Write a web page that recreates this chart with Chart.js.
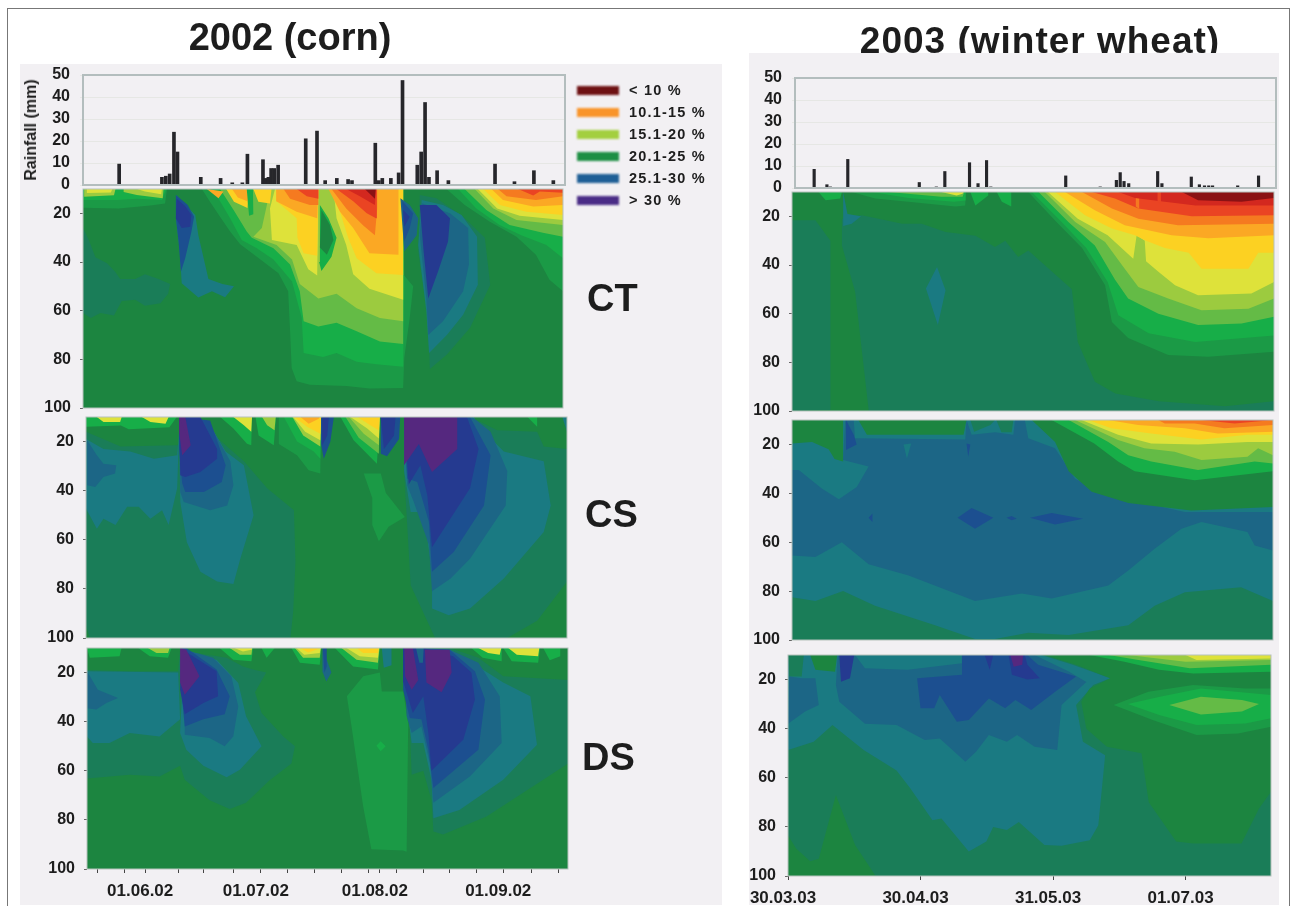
<!DOCTYPE html>
<html>
<head>
<meta charset="utf-8">
<title>Soil moisture 2002 / 2003</title>
<script src="https://cdn.jsdelivr.net/npm/chart.js@4/dist/chart.umd.js"></script>
<style>
  html, body { margin: 0; background: #fff; }
  body { width: 1292px; height: 909px; position: relative; overflow: hidden; font-family: "Liberation Sans", Arial, sans-serif; font-weight: bold; color: #1d1d1d; }
  .frame { position: absolute; left: 7px; top: 8px; width: 1283px; height: 898px; border: 1px solid #777; border-bottom: 0; box-sizing: border-box; }
  .sheet { position: absolute; background: #f2f0f3; }
  .title { position: absolute; font-size: 38px; line-height: 42px; white-space: nowrap; transform: translateX(-50%); filter: blur(0.6px); }
  .side { position: absolute; font-size: 38px; line-height: 42px; filter: blur(0.5px); }
  .swatch { position: absolute; left: 577px; width: 42px; height: 9px; filter: blur(0.8px); }
  .key { position: absolute; left: 629px; font-size: 14.5px; letter-spacing: 1.2px; line-height: 16px; white-space: nowrap; filter: blur(0.5px); }
  .rain-title { position: absolute; left: 31px; top: 130px; font-size: 16px; line-height: 16px; white-space: nowrap; transform: translate(-50%, -50%) rotate(-90deg); filter: blur(0.6px); }
  canvas { position: absolute; filter: blur(0.7px); }
</style>
</head>
<body>
<div class="frame"></div>
<div class="title" style="left:290px;top:16px">2002 (corn)</div>
<div class="title" style="left:1040px;top:20px;font-size:37px;letter-spacing:1px">2003 (winter wheat)</div>
<div class="sheet" style="left:20px;top:64px;width:702px;height:841px"></div>
<div class="sheet" style="left:749px;top:53px;width:530px;height:852px"></div>
<div class="side" style="left:587px;top:277px">CT</div>
<div class="side" style="left:585px;top:493px">CS</div>
<div class="side" style="left:582px;top:736px">DS</div>
<div id="legend"></div>
<script>
// moisture classes, driest first
const moistureColors = [
  "#8a1214", "#d3281f", "#ea4423", "#f57a20", "#fba824", "#fcd122",
  "#dee23a", "#9ccb3f", "#64bb46", "#17ae48", "#1b9a46", "#1c8540",
  "#1a7d58", "#1a7a82", "#1c6686", "#1c4f90", "#253a90", "#55287f",
];
const INDIGO = 16;
const PURPLE = 17;

const legendLabels = ["< 10 %", "10.1-15 %", "15.1-20 %", "20.1-25 %", "25.1-30 %", "> 30 %"];
const legendColors = ["#6e1113", "#f9942a", "#a3cf3f", "#1d8f44", "#1f5f96", "#4a2c86"];

// rainfall: day since start of plot, mm
const rainDays02 = [9.3, 20.3, 21.3, 22.3, 23.4, 24.3, 27.7, 30.3, 35.4, 38.4, 41, 42.3, 46.3, 47, 47.7, 48.4, 49.2, 50.2, 57.3, 60.2, 62.3, 65.3, 68.2, 69.2, 75.2, 76.1, 77, 79.2, 81.2, 82.2, 86, 87, 88, 89, 91.1, 94, 97, 106, 111, 116, 121];
const rainMm02 = [9.5, 3.5, 4, 5, 24, 15, 0.3, 3.5, 3, 1, 1, 14, 11.5, 3, 3.5, 7.5, 7.5, 9, 21, 24.5, 2, 3, 2.5, 2, 19, 2, 3, 3, 5.5, 47.5, 9, 15, 37.5, 3.5, 6.5, 2, 0.3, 9.5, 1.5, 6.5, 2];
const rainDays03 = [4.5, 7.5, 8.3, 12.4, 29.2, 33.2, 35.2, 41, 43, 45, 46, 63.6, 71.7, 75.5, 76.4, 77.3, 78.4, 85.2, 86.2, 93.1, 95, 96.2, 97.2, 98.1, 104, 108.9];
const rainMm03 = [8.5, 1.5, 0.5, 13, 2.5, 0.5, 7.5, 11.5, 2, 12.5, 0.5, 5.5, 0.5, 3.5, 7, 3, 2, 7.5, 2, 5, 1.5, 1, 1, 1, 1, 5.5];

const depthTicks = [20, 40, 60, 80, 100];
const rainTicks = [0, 10, 20, 30, 40, 50];
const dayRange02 = 124;
const dayRange03 = 113;

const tickDays02 = [2.8, 9.7, 15, 23.5, 30, 37.7, 44.8, 51.8, 58.7, 65.6, 72.5, 75.5, 79.8, 86.7, 93.5, 100.4, 107.3, 114.6, 121.5];
const tickNames02 = { 15: "01.06.02", 44.8: "01.07.02", 75.5: "01.08.02", 107.3: "01.09.02" };
const tickDays03 = [0, 31, 62, 93];
const tickNames03 = { 0: "30.03.03", 31: "30.04.03", 62: "31.05.03", 93: "01.07.03" };

// contour layers as [class, [[day, depth], ...]], painted in order
const ct02Layers = [
  [11, [[0,10],[124,10],[124,100],[0,100]]],
  [12, [[0,26],[1.5,31],[3.2,38],[6.2,40.5],[8.3,44],[9.6,47],[13.5,47],[16,45],[19.5,47],[22.5,49],[22,53],[20,57],[16,58],[13.5,55.5],[10,56],[8,62],[4.5,61],[2,63],[0,61]]],
  [13, [[24,12.5],[29,20.7],[29.8,29],[32.4,47],[36,49],[39,50],[36.7,54.5],[33.3,52],[29.8,54.6],[25.5,48.7],[25,35.7],[24,22]]],
  [15, [[24,12.5],[27,16.5],[28.7,21.4],[28,27.6],[26.4,38.5],[25.3,44],[24.7,31.6],[24,22]]],
  [INDIGO, [[24.2,14],[26.4,17],[28,20.7],[27.7,25.5],[25.5,26],[24,22]]],
  // left surface strip
  [10, [[0,10],[21.7,10],[21.2,16],[17.4,16.8],[9.2,18],[0,17.7]]],
  [9, [[0,10],[21.5,10],[20.4,14.5],[13.9,14],[8.8,14.5],[0,14.5]]],
  [7, [[0.3,10],[8.4,10],[8,12.6],[0.3,13.2]]],
  [6, [[1,10],[7.6,10],[7.2,11.4],[1,11.6]]],
  [7, [[10.5,10],[20.8,10],[20.6,13.8],[13.9,12.5],[10.5,11.2]]],
  [6, [[14,10],[20.4,10],[20.2,12.2],[16,11]]],
  // middle dry period
  [10, [[30.7,10],[32.8,15.2],[35.4,21.4],[38,27.5],[40.6,32.7],[44.9,37.8],[50.5,44.6],[53,52],[53.5,68.5],[53.9,83.6],[55.2,89],[58.6,90.4],[68,91],[74,92],[82.7,91.8],[83,79.5],[84.4,63],[85.3,50],[82.7,45],[82,10]]],
  [9, [[33.3,10],[35.4,15],[38,22],[41,31],[44.9,34.4],[49.2,39],[54,48],[56.5,63],[57,77.4],[62,79],[65.5,77.4],[70.7,81],[75.8,82],[82.7,83],[83,49.4],[82.7,10]]],
  [8, [[35.4,10],[38.9,18.6],[42.3,27.5],[43.6,30],[49.2,34.4],[53.5,41],[56,52],[57,64.4],[60.8,66.5],[65.5,65],[70.7,68.5],[76.7,72.7],[82.7,73.7],[82.7,10]]],
  [7, [[48.3,10],[47.5,16.6],[46.2,26],[44,29.6],[50,33],[54,39],[56,49],[60.8,55],[65.5,53],[70.7,59],[76.7,63],[82.7,64.4],[82.7,10]]],
  [4, [[32,10],[35,13.8],[36.3,11]]],
  [5, [[37,10],[39,15.2],[42.5,17.8],[42.7,10]]],
  [4, [[38.5,10],[40,13.5],[42.5,15],[42.6,10]]],
  [5, [[44,10],[45.3,15.2],[48.3,16],[48.7,10]]],
  [9, [[42.3,10],[42.9,21],[44,20.4],[43.9,10]]],
  [6, [[48.3,18],[48.8,31],[55.2,33],[58.2,43],[60.5,45.5],[60.8,10],[49.6,10]]],
  [5, [[50,15],[55.2,22],[55.4,30],[57,36.4],[60.5,37.4],[60.8,10],[50,10]]],
  [4, [[49.9,15],[55.2,19.3],[60.5,22],[60.8,10],[49.9,10]]],
  [3, [[51.8,10],[53.5,14],[58.6,16.6],[60.8,16.6],[60.8,10]]],
  [2, [[55.2,10],[57.8,13],[60.8,14],[60.8,10]]],
  [9, [[61.2,16.6],[63.4,22],[65.5,30],[64.2,37.8],[61.6,43.7],[61,40]]],
  [11, [[61.6,18.6],[63.8,24.8],[64.7,31],[63,37],[61.2,34]]],
  [6, [[64.7,10],[65.5,22],[68,33],[69.8,45],[74,51],[82.7,55.5],[82.7,10]]],
  [5, [[66.4,19.3],[68.5,30],[70.7,38.5],[75.8,44.6],[82.7,45.3],[82.7,10],[63.8,10]]],
  [4, [[63.4,10],[66.4,19.3],[69.8,26],[74,36.4],[81.5,37],[81.5,10]]],
  [3, [[64.2,10],[68,18],[72.4,25],[75.4,29],[76,18],[76,10]]],
  [2, [[65.5,10],[69.8,15],[73.3,20],[75.7,22],[75.9,10]]],
  [1, [[68,10],[71.5,13],[75.4,16.6],[75.7,10]]],
  [0, [[72.8,10],[75.4,14],[75.6,10]]],
  // rewetting after the August storm
  [14, [[82,13.8],[84.4,16.6],[86.6,22],[86.2,29],[83,35.7],[82.5,24.8]]],
  [15, [[82.5,15],[85.3,20],[84.4,26],[83,31.6]]],
  [INDIGO, [[82.7,18.6],[84.4,21.4],[83,25.5]]],
  [12, [[87,12.5],[91.3,13.8],[98.2,21.4],[103.8,30],[105.2,49.4],[100,67],[94,78],[89.6,84],[89.2,63],[86.6,35.7]]],
  [13, [[87.5,14.5],[93,16.6],[97.8,20.7],[101.8,29.6],[102,49.4],[98.2,61.7],[94,70],[89.4,77.4],[88.7,60.3],[86.6,33]]],
  [14, [[87.5,15.9],[94.8,20],[99.5,26],[99.7,41],[98.2,52],[93,64.4],[89.2,70],[88.7,55],[87,29]]],
  [INDIGO, [[87,16.6],[91.3,16.6],[94.8,22],[94.3,31.6],[91.7,44],[89.2,55],[88,35.7]]],
  // late season drying
  [10, [[93.9,10],[98.6,16.6],[105,23.4],[112,29.6],[117,37],[120.5,47.3],[124,52],[124,10]]],
  [9, [[96.9,10],[101.6,18],[107.6,24.8],[113.2,29],[119.7,33],[124,38.5],[124,10]]],
  [8, [[98.6,10],[104.2,18.6],[110.2,24.8],[118.8,28],[124,29.6],[124,10]]],
  [7, [[101.2,10],[106,18],[112,22.7],[124,24.8],[124,10]]],
  [6, [[102,10],[107,18],[112.8,21],[124,22.7],[124,10]]],
  [5, [[103.4,10],[107.7,16.6],[114.5,19.3],[124,20.7],[124,10]]],
  [4, [[105.5,10],[108.5,14.5],[116.3,17.2],[124,16.6],[124,10]]],
  [3, [[107.2,10],[109.4,13],[117,14.5],[124,13],[124,10]]],
  [2, [[112.4,10],[116.3,12.7],[118,11],[124,11.5],[124,10]]],
];

const cs02Layers = [
  [11, [[0,10],[124,10],[124,100],[0,100]]],
  [12, [[0,16],[8.9,22],[23.5,21.5],[32,16],[40.7,28],[46.7,39],[53.6,48],[54,69],[53.4,89.4],[52.7,100],[1,100],[0,95]]],
  [12, [[82,32],[83.7,78.5],[90,100],[108.6,100],[116.3,93],[124,77],[124,23],[118,22],[116.3,16],[106,15.4],[100,10.7],[82,10]]],
  [13, [[0,19],[4.5,23],[11.4,24],[17.5,27],[23.5,25.6],[24,16],[23.5,39],[21.3,54],[19.6,48],[16.6,51.4],[13.6,46.6],[10.6,46.6],[7.6,54],[4.5,51.4],[2.8,55.5],[0,47.3]]],
  [13, [[32,13.4],[36,24],[40.7,29.7],[43.2,50],[39.8,67.6],[38,78],[33.8,77],[29.5,73],[26,61],[24.3,44.6],[24,16]]],
  [13, [[101,13.4],[107.7,24],[118,28],[119.8,46],[118,56.8],[107.7,75.8],[99,88],[93.5,90.7],[89.2,88],[89.2,73],[87,48.7],[83.7,48.7],[82,32],[82,10],[100,10]]],
  [14, [[0.3,19.5],[2.8,25.6],[4.5,29],[7.8,29.7],[7.5,33],[4.5,34.4],[2.4,38.5],[0.3,37.8]]],
  [14, [[24,10.7],[31.6,12],[37.2,28],[38,37.8],[36.4,46],[32,48],[25.2,44.6],[24.3,40.5]]],
  [14, [[99.6,10],[104.3,16],[108.6,32],[108.2,46],[99,67.7],[94,75.8],[89.2,81],[88.4,62],[84.5,44.6],[82.8,37.8],[82,10]]],
  [15, [[24,10],[32,11.4],[36,29.7],[35,36.5],[30.4,40.5],[25.6,40.5],[24.8,37],[24,23]]],
  [15, [[82,10],[99,10],[104.3,25.6],[102.6,46],[94.8,65],[89.2,73],[88.4,52.7],[85.4,36.5],[82.8,35]]],
  [INDIGO, [[24,10],[29.5,10],[33.8,23],[33.8,27],[29.5,32.4],[25.6,34.4],[24.3,33.7]]],
  [INDIGO, [[82,10],[98.2,10],[101.2,23],[99,39],[89.2,63],[88,42],[86.2,29.7],[83.2,37.5]]],
  [PURPLE, [[24,10],[25.6,10],[27,21.5],[24.8,25.6],[24,16]]],
  [PURPLE, [[82,10],[95.7,10],[95.7,23],[89.2,32.4],[85.8,21],[82,29.7]]],
  [15, [[76,10],[81,10],[80.7,19],[77.6,26],[76,25]]],
  [INDIGO, [[76,10],[79.8,10],[79.4,17.5],[76.8,23]]],
  [15, [[60.6,10],[63.9,10],[63,20],[61.3,27],[60.6,21]]],
  [INDIGO, [[60.9,10],[62.6,10],[62.2,17.5],[60.9,21.5]]],
  [13, [[122.8,10],[124,10],[124,16]]],
  // surface strips
  [9, [[0,10],[23.4,10],[21.5,14.2],[11,15],[9,13.5],[0,14]]],
  [6, [[2.8,10],[9.2,10],[8.8,12],[4.5,12]]],
  [6, [[14.4,10],[21.3,10],[20.5,12.7],[16.6,12]]],
  [9, [[34.6,10],[38,14.7],[41.5,20.9],[42.6,21.5],[42.8,10]]],
  [6, [[38,10],[40.7,13.4],[42.6,16],[42.8,10]]],
  [9, [[43.7,10],[44.5,17.5],[48.4,21.5],[49,10]]],
  [7, [[45.4,10],[46.7,13.4],[48.6,15.4],[48.9,10]]],
  [10, [[49.7,10],[49.7,21],[54.4,25.6],[57.4,31.7],[60.4,33],[60.6,10]]],
  [9, [[51,10],[54.4,20],[58.7,24],[60.4,27],[60.6,10]]],
  [7, [[53.2,10],[56,17.5],[60.4,22],[60.6,10]]],
  [6, [[53.4,10],[56.5,16],[60.4,19.5],[60.6,10]]],
  [5, [[53.7,10],[57,14],[60.4,16.8],[60.6,10]]],
  [4, [[55.3,10],[57.4,12.7],[60,10.7],[60.2,10]]],
  [10, [[71.6,33],[76,33],[77.3,41],[82.2,50.7],[78,54.7],[75.5,60.6],[73.8,54],[73.8,43]]],
  [9, [[65.6,10],[69,19.5],[75,29],[75.7,10]]],
  [8, [[66.9,10],[70.3,18.5],[75.5,25],[75.7,10]]],
  [7, [[67.8,10],[71.6,16.8],[75.5,21.5],[75.7,10]]],
  [6, [[68.2,10],[72.5,14.7],[75.5,18.8],[75.7,10]]],
  [5, [[70,10],[73.3,13.4],[75.5,15.4],[75.7,10]]],
  [9, [[113.8,10],[116.3,14],[116.3,10]]],
];

const ds02Layers = [
  [11, [[0,10],[124,10],[124,100],[0,100]]],
  [12, [[0,19],[11,19.5],[23.5,19.5],[24,11],[36,14],[40.2,17.5],[43.3,19],[46.2,20],[43.3,28],[45,36.5],[50.6,46],[53.6,50],[52.7,57],[47,64],[41,73],[36.8,75.6],[31.6,72],[25.2,63.7],[24,58],[18.7,62.3],[11,61.6],[0.7,63],[0,63]]],
  [13, [[0,19.5],[23.5,20],[24,39],[18.7,46],[11,44.6],[5.8,48.7],[1.5,48.7],[0,46]]],
  [14, [[0,19.5],[2.8,27],[8,30.4],[5,32.4],[2.4,35],[0,34.5]]],
  [13, [[25,12.7],[33.4,14.8],[39,24.3],[41,37.8],[45,50],[39.4,59.6],[36,62.6],[30,58],[25.6,51.4],[24,44.6]]],
  [14, [[25.2,10.7],[32.5,14],[37.2,21.5],[39,33.8],[37.7,46],[35.5,50],[31.6,46.7],[25.2,45.3]]],
  [15, [[24.3,10],[25.6,10],[33.4,18.8],[36.8,29.7],[35.5,37],[30,39],[25.2,42],[24.3,27]]],
  [INDIGO, [[24.3,10],[26,12],[33.4,19.5],[33.8,29.7],[30,32.4],[25.2,37],[24,27]]],
  [PURPLE, [[24,10],[25.6,10.7],[29,21.5],[25.2,29],[24,24]]],
  [10, [[71.2,21.5],[75.5,20],[76,27.7],[81.5,27.7],[82.8,40.6],[82.4,93],[81.5,92.5],[73.3,92],[71.2,74.5],[68.2,42],[67,29.7]]],
  [9, [[74.6,49.8],[75.7,48],[77,50],[75.7,52]]],
  [14, [[60.7,10],[63,20],[61.7,23.6],[60.8,20]]],
  [15, [[60.8,10],[61.8,10],[61.8,17.5],[61.2,20]]],
  [13, [[76,10],[78.5,10],[78.5,17],[76.5,18]]],
  [9, [[0,10],[0.7,14],[8.4,13.4],[8.9,10]]],
  [9, [[13.2,10],[16.2,13.4],[20.9,14],[21.8,10]]],
  [7, [[15.7,10],[17.9,12],[20.9,12],[21.3,10]]],
  [9, [[34.2,10],[37.7,14.8],[42.4,15.4],[42.8,10]]],
  [7, [[36.8,10],[39.4,12.7],[42.4,12.7],[42.6,10]]],
  [6, [[38,10],[40.2,11.4],[42.4,10.7],[42.5,10]]],
  [9, [[45,10],[46.3,14],[48.4,10]]],
  [9, [[52.7,10],[54.9,16],[60,16.8],[60.4,10]]],
  [7, [[53.6,10],[55.7,14],[60,14],[60.3,10]]],
  [6, [[54,10],[56,12.7],[60,12],[60.2,10]]],
  [5, [[54.9,10],[57,11.8],[59.6,10.4],[60,10]]],
  [9, [[63.9,10],[68.6,17.5],[75,18.8],[75.5,10]]],
  [7, [[65.6,10],[69.5,14.8],[75,16],[75.4,10]]],
  [6, [[66.9,10],[70.3,13.4],[75,14],[75.3,10]]],
  [5, [[69.5,10],[71.2,12],[75,12],[75.2,10]]],
  [9, [[99.1,10],[102,14],[106.9,15.4],[106.9,10]]],
  [6, [[100.9,10],[103.4,12],[106.4,12.7],[106.8,10]]],
  [9, [[107.3,10],[109.5,15.4],[116.3,16],[116.8,10]]],
  [6, [[108.6,10],[110.8,12.7],[116.3,13.4],[116.6,10]]],
  [9, [[117.6,10],[119.3,15],[122,13.4],[122,10]]],
  // large wetting front
  [12, [[93.5,10],[100.9,14],[107.3,21.5],[124,23],[124,57],[117.6,63.7],[103,78.6],[91.8,86],[89.3,84.7],[88.8,72],[86.7,60],[83.7,61.6],[83.2,42],[81.5,10]]],
  [13, [[93.5,10.7],[102,18.8],[107.3,24],[114.3,29.7],[116,49.4],[107.3,63.7],[96,76],[89.3,79.3],[88.8,63.7],[86.7,48.7],[83.7,48.7],[82.8,37.8],[81.5,10]]],
  [14, [[93.5,10.7],[100.9,16],[106.4,29.7],[106.9,48.7],[98.7,62.3],[89.3,73],[88.4,57],[86.2,42],[83.7,44.6],[82.4,37.8],[81.5,10]]],
  [15, [[86.7,10],[93.5,10.7],[100,19.5],[102.6,31],[100.9,51.4],[89.3,67],[88,51.4],[86.2,39],[83.2,38.5],[81.5,27],[81.5,10]]],
  [INDIGO, [[86.7,10],[94.4,13.4],[99.1,20],[100,31],[97,47.4],[88.8,60],[88,44.6],[86.7,29.7],[84,36.5],[81.6,24],[81.5,10]]],
  [PURPLE, [[87.1,10.7],[93.5,10.7],[94,20],[91.4,28],[87.5,24]]],
  [PURPLE, [[81.8,10],[84,10],[85.4,23],[83.7,27],[82,21.5]]],
  [14, [[84.8,10],[86.8,10],[86.6,16],[85.7,16]]],
];

const ct03Layers = [
  [11, [[0,10],[113,10],[113,100],[0,100]]],
  [12, [[0,21.6],[5.5,21.6],[9,30],[9,99.6],[0,100]]],
  [12, [[11.7,32],[11.7,21],[16.4,19.6],[25.8,23],[30.4,23],[36,26.4],[43,28],[47.6,32.6],[50,30],[53,36.7],[55.4,34],[65.6,50],[67,71.6],[71,88],[75.8,92.8],[86,96],[101.5,98],[113,96],[113,100],[18,100],[14.8,51]]],
  [13, [[12,10],[13,19],[16.2,20],[14,23],[12,24]]],
  [13, [[34,40.8],[36,50.4],[34.2,64.7],[31.4,49.7]]],
  [9, [[6.2,10],[7.9,13.4],[11.3,12.7],[11.7,10]]],
  [10, [[14,10],[19.5,12.7],[27.3,14],[38.3,16],[40.6,15.5],[40.8,10]]],
  [9, [[18.7,10],[27.3,12.5],[38,14],[40.6,13.5],[40.7,10]]],
  [8, [[22.6,10],[35,12],[40,12],[40.4,10]]],
  [6, [[35,10],[38.6,11.4],[40,10.7],[40.2,10]]],
  [9, [[41.8,10],[43,15.5],[46,11.4],[46,10]]],
  [9, [[48,10],[49.2,14],[51.4,16],[51.4,10]]],
  // drying front of the wheat season
  [10, [[55.4,10],[62,22.3],[68,33],[73.4,48.3],[75,63.4],[78.8,70],[88.2,77],[97.6,77.7],[113,75.7],[113,10]]],
  [9, [[56.2,10],[63.2,22.3],[69,33],[74,47],[76.5,60.6],[83.6,68],[94.5,71.6],[113,69],[113,10]]],
  [8, [[57.8,10],[64.8,22.3],[71,32],[75.7,46],[78.8,53.8],[85.9,60],[95.2,64.7],[105.4,64],[113,61.3],[113,10]]],
  [7, [[59.3,10],[66.4,22.3],[73.4,30.5],[78,41.5],[81.2,49],[88.2,53.8],[96,58.6],[107,58],[113,53.8],[113,10]]],
  [6, [[60,10],[67,21],[74,27.8],[80,37.4],[80.8,27.8],[82.7,30],[83,38.5],[85.9,42.8],[89.8,48.3],[95.2,52.4],[107.7,51.7],[113,47],[113,10]]],
  [5, [[61.7,10],[68.7,19.6],[75,25],[80.4,27.8],[83,30],[87.4,33],[93,35],[96,41.5],[107,41.5],[109.3,35],[113,35],[113,10]]],
  [4, [[64,10],[71,17.5],[78,23.7],[89,27.8],[97.6,29],[113,27.8],[113,10]]],
  [3, [[68,10],[75,16.8],[81.2,21],[90.5,23.7],[113,23],[113,10]]],
  [2, [[70.3,10],[75.7,12.7],[81.2,16.8],[93.7,20],[113,19.6],[113,10]]],
  [3, [[80.6,10],[81.4,10],[81.4,17],[80.6,16]]],
  [1, [[76.5,10],[80.4,12.5],[87.4,14],[94.6,15.5],[113,15.5],[113,10]]],
  [2, [[85.7,10],[86.5,10],[86.5,15],[85.7,14]]],
  [0, [[91.4,10],[95.2,13.4],[105.4,14],[113,12.5],[113,10]]],
];

const cs03Layers = [
  [12, [[0,10],[113,10],[113,100],[0,100]]],
  [13, [[0,82.5],[5.5,84],[12,80],[19.5,86],[33.6,94],[43,99.6],[47.7,99.6],[55.5,97],[65,98],[79,94],[85.2,86],[92.3,80.5],[105.5,78.4],[113,84],[113,10],[0,10]]],
  [14, [[0,30.5],[1.6,30.5],[7,38],[11,42.4],[15.2,37.4],[18,29],[12,26.4],[12.5,10],[14.5,10],[14.8,17.5],[40.7,18],[41,10],[42.2,16],[47.7,15],[52,16],[52.4,10],[54.7,10],[55.5,17.5],[61.8,21.6],[66.5,34],[74.3,40.8],[92.3,47.6],[113,47.6],[113,63.4],[108.7,61.3],[107,55.8],[96.2,51.7],[91.5,54.5],[85.2,62.7],[79,71.6],[74.3,77.7],[61,83],[54,81],[43,84],[27.4,73.6],[18,69],[11.7,60],[5.5,66],[0,65.4]]],
  [11, [[0,10],[12,10],[12,27],[10,26],[8.6,22],[4.7,19],[0,19.6]]],
  [11, [[15.6,10],[17.6,16],[40.3,16],[41,10]]],
  [12, [[41.9,10],[42.8,14.8],[46.6,12],[47.7,10]]],
  [12, [[48,10],[49.2,15],[51.6,15],[52,10]]],
  [15, [[12.7,10],[14.5,16],[15.2,20],[12.7,22.3]]],
  [13, [[26.2,20],[27,25.7],[28,19.6]]],
  [15, [[41,19.6],[41.4,25],[41.9,20]]],
  [15, [[18,50],[18.9,48.3],[18.9,51.7]]],
  [15, [[38.9,50],[42.2,46],[47.3,50],[43,54.5]]],
  [15, [[50.4,50],[51.6,49.3],[52.8,50.4],[51.6,51]]],
  [15, [[55.9,50],[61,48],[68.4,50.4],[61.8,52.8]]],
  // dry topsoil on the right
  [11, [[56.3,10],[61.8,19],[65,31],[70.4,39.4],[79,44],[93.8,47],[113,45.6],[113,10]]],
  [9, [[61,10],[71,19.6],[76.6,27],[80.5,31],[94.6,34.6],[113,31],[113,10]]],
  [8, [[65,10],[74.3,19],[79,24.4],[84.4,27],[95.4,30.5],[108.7,27],[113,27.8],[113,10]]],
  [7, [[66.5,10],[76.6,18.2],[82.8,21.6],[89.9,23],[96.2,26.4],[107,25],[109.5,21.6],[113,24.4],[113,10]]],
  [6, [[68,10],[76.6,16],[84.4,19.6],[95.4,20],[107,19],[113,19],[113,10]]],
  [5, [[69.6,10],[75,13.4],[84.4,15.5],[96.2,18],[107,16],[113,16],[113,10]]],
  [4, [[74.3,10],[81.3,12],[92.3,13.4],[100,15.5],[113,14.8],[113,10]]],
  [3, [[86,10],[87.6,11.4],[94.6,11.4],[101.6,13.4],[113,12],[113,10]]],
  [2, [[96.2,10],[104,11.4],[113,10]]],
];

const ds03Layers = [
  [12, [[0,10],[113,10],[113,100],[0,100]]],
  [11, [[0,83.4],[1.9,88.8],[5.2,94],[7.2,93],[11.2,67],[15.7,87.4],[20.5,100],[0,100]]],
  [13, [[0,48.7],[6,45.3],[10.4,38.5],[17.7,48.7],[25.4,57],[28.6,64.3],[33.8,77.3],[35.9,76.6],[42.3,90],[46.4,86],[48,80],[51.2,81.3],[54,78],[60,87.4],[64,87.7],[70.6,85.4],[72.6,79.3],[74.2,50.8],[69,45.3],[67.4,30.4],[71.4,22.2],[75.4,19.5],[66.6,14],[59.3,10],[0,10]]],
  [12, [[0,10],[0.3,18.8],[3.2,18.8],[3.7,10]]],
  [11, [[5.2,10],[6.4,16],[11,16.8],[11.5,10]]],
  [14, [[0,38],[4,33],[7.2,30.4],[6.4,19.5],[3.2,19.5],[0.3,18.8]]],
  [14, [[11.6,10],[11.2,22.2],[12,29],[18,38],[25.4,38.5],[32,44.6],[35.5,44],[41.5,53.5],[44,49.4],[47,42.6],[51.2,45.3],[53.6,42.6],[57.7,47.4],[63,48.7],[64,30.4],[69.8,21],[65.8,16.8],[57.7,10]]],
  [13, [[15.7,10],[18,15.4],[28,16],[40.7,13.4],[40.7,10]]],
  [15, [[30.2,19.5],[31,31.7],[34.2,31.7],[35.5,26.3],[39.5,37.2],[42.3,36.5],[47,27.7],[50.8,31.7],[53.2,28.3],[56.9,32.4],[62.5,25],[67.4,18.8],[58.5,14],[56,10],[40.7,10],[40.7,18]]],
  [INDIGO, [[51.6,10],[52.4,18],[56,20],[58.9,19.5],[56,14],[55.4,10]]],
  [PURPLE, [[52,10],[52.8,14.8],[54.8,14],[55,10]]],
  [INDIGO, [[46,10],[47.2,16],[48,10]]],
  [INDIGO, [[12,10],[12.4,20.9],[14.5,19.5],[15.5,10]]],
  // right hand green body
  [11, [[60,10],[67.4,14],[75.4,19.5],[70.6,23.6],[68.6,29],[69.8,40],[74.6,47.4],[82.7,50],[84.4,70],[90.8,86],[94.8,86.8],[106.1,86.8],[110.2,72.5],[113,65.7],[113,10]]],
  [9, [[70.6,10],[78.7,12.7],[86.8,16],[94.8,17.5],[113,16.8],[113,10]]],
  [8, [[75,10],[82,12],[86.8,13.4],[94,15.4],[113,14],[113,10]]],
  [7, [[79.5,10],[93,12.7],[113,12],[113,10]]],
  [6, [[93,10],[95.6,12],[113,11.4],[113,10]]],
  [10, [[76.2,30.4],[84.3,25],[94.8,22.2],[107,23.6],[113,23.6],[113,39.2],[105.3,42],[95.6,42.6],[85.3,36.5]]],
  [9, [[79.5,30],[87,27],[96.6,23.6],[108.6,25.6],[113,26.3],[113,35.8],[107,37.9],[95.6,38.5],[87,34.5]]],
  [8, [[89.2,30.4],[96.6,27],[106.2,28.3],[110.2,30],[106.2,33],[96.6,34.2]]],
];

// plot areas on the page, px
const rain02Box = { x0: 83, x1: 565, y0: 75, y1: 185 };
const ct02Box = { x0: 83, x1: 563, y0: 189, y1: 408 };
const cs02Box = { x0: 86, x1: 567, y0: 417, y1: 638 };
const ds02Box = { x0: 87, x1: 568, y0: 648, y1: 869 };
const rain03Box = { x0: 795, x1: 1276, y0: 78, y1: 188 };
const ct03Box = { x0: 792, x1: 1274, y0: 192, y1: 411 };
const cs03Box = { x0: 792, x1: 1273, y0: 420, y1: 640 };
const ds03Box = { x0: 788, x1: 1271, y0: 655, y1: 876 };

const GUTTER_LEFT = 72;
const GUTTER_BOTTOM = 34;
const PAD = 12;
const TICK_FONT = { family: "'Liberation Sans', Arial, sans-serif", weight: "bold", size: 16 };

// strokes the box around the plot area
const plotFrame = {
  id: "plotFrame",
  afterDraw(chart, args, opts) {
    const { left, top, width, height } = chart.chartArea;
    chart.ctx.save();
    chart.ctx.strokeStyle = opts.color;
    chart.ctx.lineWidth = opts.width;
    chart.ctx.strokeRect(left, top, width, height);
    chart.ctx.restore();
  },
};

function placeCanvas(box) {
  const canvas = document.createElement("canvas");
  canvas.width = box.x1 - box.x0 + GUTTER_LEFT + PAD;
  canvas.height = box.y1 - box.y0 + GUTTER_BOTTOM + PAD;
  canvas.style.left = box.x0 - GUTTER_LEFT + "px";
  canvas.style.top = box.y0 - PAD + "px";
  document.body.appendChild(canvas);
  return canvas;
}

// fill:"shape" clips to first.x..last.x, so start at the leftmost vertex and
// finish with a zero-area hop to the rightmost one
function layerDataset([level, points]) {
  let first = 0;
  let last = 0;
  points.forEach((p, i) => {
    if (p[0] < points[first][0]) first = i;
    if (p[0] > points[last][0]) last = i;
  });
  const ring = points.slice(first).concat(points.slice(0, first));
  ring.push(points[first], points[last]);
  return {
    data: ring.map(([x, y]) => ({ x, y })),
    showLine: true,
    fill: "shape",
    backgroundColor: moistureColors[level],
    borderWidth: 0,
    pointRadius: 0,
    tension: 0,
  };
}

// keep the tick label overhang from pushing the plot area around
function fixGutters(s) {
  s.paddingTop = 0;
  s.paddingBottom = 0;
  s.paddingLeft = 0;
  s.paddingRight = 0;
  if (s.isHorizontal()) s.height = GUTTER_BOTTOM;
  else s.width = GUTTER_LEFT;
}

function baseOptions(xScale, yScale, frameColor, frameWidth) {
  return {
    responsive: false,
    animation: false,
    events: [],
    layout: { padding: { top: PAD, right: PAD } },
    plugins: { legend: { display: false }, tooltip: { enabled: false }, plotFrame: { color: frameColor, width: frameWidth } },
    scales: { x: xScale, y: yScale },
  };
}

function depthChart(box, layers, dayRange, tickDays, tickNames) {
  const xScale = {
    type: "linear",
    min: 0,
    max: dayRange,
    afterFit: fixGutters,
    grid: { display: !!tickDays, drawOnChartArea: false, tickLength: 4, color: "#444" },
    border: { display: false },
    ticks: { display: false },
  };
  if (tickDays) {
    xScale.afterBuildTicks = (s) => { s.ticks = tickDays.map((value) => ({ value })); };
    xScale.ticks = {
      autoSkip: false, maxRotation: 0, padding: 8, labelOffset: -5, color: "#1d1d1d",
      font: { ...TICK_FONT, size: 17 },
      callback: (v) => tickNames[v] || "",
    };
  }
  const yScale = {
    type: "linear",
    reverse: true,
    min: 10,
    max: 100,
    afterBuildTicks: (s) => { s.ticks = depthTicks.map((value) => ({ value })); },
    afterFit: fixGutters,
    grid: { drawOnChartArea: false, tickLength: 3, color: "#666" },
    border: { display: false },
    ticks: { autoSkip: false, padding: 9, color: "#1d1d1d", font: TICK_FONT },
  };
  return new Chart(placeCanvas(box), {
    type: "scatter",
    // first dataset ends up on top, so hand the layers over back to front
    data: { datasets: layers.map(layerDataset).reverse() },
    options: baseOptions(xScale, yScale, "#b5c2bc", 1),
    plugins: [plotFrame],
  });
}

function rainChart(box, days, mm, dayRange, barWidth) {
  const xScale = {
    type: "linear",
    min: 0,
    max: dayRange,
    offset: false,
    afterFit: fixGutters,
    grid: { display: false },
    border: { display: false },
    ticks: { display: false },
  };
  const yScale = {
    min: 0,
    max: 50,
    afterBuildTicks: (s) => { s.ticks = rainTicks.map((value) => ({ value })); },
    afterFit: fixGutters,
    grid: { color: "#e6e7e4", tickLength: 3 },
    border: { display: false },
    ticks: { autoSkip: false, padding: 10, color: "#1d1d1d", font: TICK_FONT },
  };
  return new Chart(placeCanvas(box), {
    type: "bar",
    data: { datasets: [{ data: days.map((x, i) => ({ x, y: mm[i] })), backgroundColor: "#26262a", barThickness: barWidth }] },
    options: baseOptions(xScale, yScale, "#b3bdbd", 2),
    plugins: [plotFrame],
  });
}

const legendBox = document.getElementById("legend");
legendLabels.forEach((label, i) => {
  const y = 90 + i * 22;
  legendBox.insertAdjacentHTML("beforeend",
    `<div class="swatch" style="top:${y - 4}px;background:${legendColors[i]}"></div>` +
    `<div class="key" style="top:${y - 8}px"></div>`);
  legendBox.lastChild.textContent = label;
});
document.body.insertAdjacentHTML("beforeend", '<div class="rain-title">Rainfall (mm)</div>');

rainChart(rain02Box, rainDays02, rainMm02, dayRange02, 3);
depthChart(ct02Box, ct02Layers, dayRange02);
depthChart(cs02Box, cs02Layers, dayRange02);
depthChart(ds02Box, ds02Layers, dayRange02, tickDays02, tickNames02);
rainChart(rain03Box, rainDays03, rainMm03, dayRange03, 2.5);
depthChart(ct03Box, ct03Layers, dayRange03);
depthChart(cs03Box, cs03Layers, dayRange03);
depthChart(ds03Box, ds03Layers, dayRange03, tickDays03, tickNames03);
</script>
</body>
</html>
